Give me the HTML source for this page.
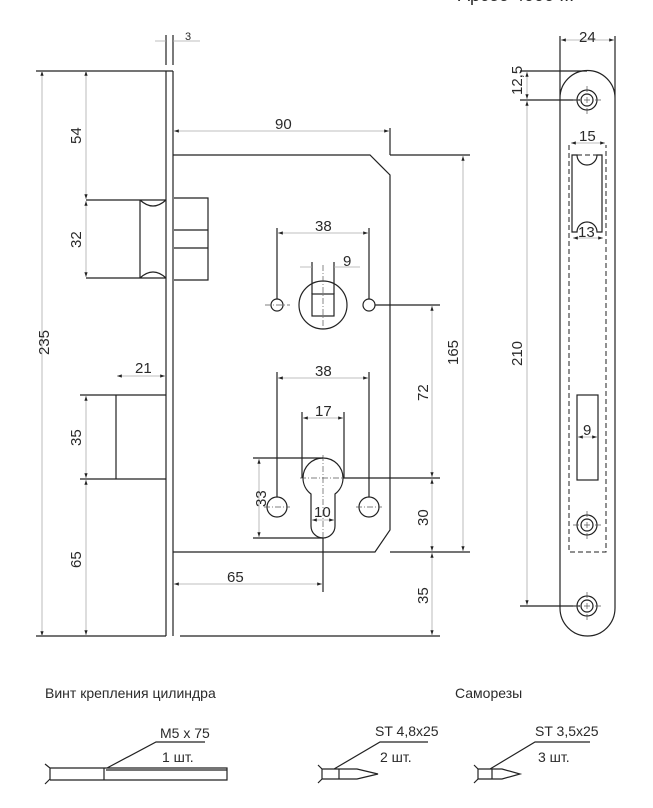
<!DOCTYPE html>
<html><head><meta charset="utf-8"><style>
html,body{margin:0;padding:0;background:#fff}
svg{display:block}
text{font-family:"Liberation Sans",sans-serif;fill:#2a2a2a}
.k{stroke:#222;stroke-width:1.2;fill:none}
.d{stroke:#aaa;stroke-width:0.8;fill:none}
.c{stroke:#555;stroke-width:0.7;fill:none;stroke-dasharray:6 2 1 2}
.ds{stroke:#222;stroke-width:1;fill:none;stroke-dasharray:5 3}
</style></head><body>
<svg width="653" height="808" viewBox="0 0 653 808" xmlns="http://www.w3.org/2000/svg">
<defs>
<marker id="a" viewBox="0 0 6 6" refX="6" refY="3" markerWidth="6" markerHeight="6" orient="auto-start-reverse"><path d="M0,1 L6,3 L0,5z" fill="#222"/></marker>
</defs>
<text x="458" y="1" font-size="18" fill="#444">Арсео 4000 ...</text>

<!-- faceplate -->
<path class="k" d="M166,71 V636 M173,71 V636 M166,71 H173"/>
<!-- body -->
<path class="k" d="M173,155 H370 L390,175 V530 L375,552 H173"/>
<!-- latch -->
<path class="k" d="M86,200 H166 M86,278 H166 M140,200 V278 M140,200 Q153,212 166,200 M140,278 Q153,266 166,278"/>
<path class="k" d="M174,198 H208 V280 H174 M174,230 H208 M174,248 H208"/>
<!-- deadbolt -->
<path class="k" d="M80,395 H166 M80,479 H166 M116,395 V479"/>
<!-- spindle -->
<circle class="k" cx="323" cy="305" r="24"/>
<rect class="k" x="312" y="294" width="22" height="22"/>
<circle class="k" cx="277" cy="305" r="6"/><circle class="k" cx="369" cy="305" r="6"/>
<path class="c" d="M265,305 H290 M323,265 V330"/>
<path class="k" d="M375,305 H440 M277,228 V299 M369,228 V299 M312,262 V294 M334,262 V294"/>
<!-- cylinder -->
<path class="k" d="M303,478 A20,20 0 1 1 343,478 A20,20 0 0 1 335,494 V526 A12,12 0 0 1 311,526 V494 A20,20 0 0 1 303,478 Z"/>
<circle class="k" cx="277" cy="507" r="10"/><circle class="k" cx="369" cy="507" r="10"/>
<path class="c" d="M264,507 H290 M356,507 H382 M300,478 H346 M323,455 V540"/>
<path class="k" d="M343,478 H440 M277,372 V497 M369,372 V497 M302,412 V478 M344,412 V478 M253,458 H323 M253,538 H323 M323,538 V592"/>
<!-- outer lines -->
<path class="k" d="M36,71 H166 M36,636 H166 M180,636 H440 M390,155 V128 M390,155 H470 M390,552 H470"/>
<path class="k" d="M166,35 V65 M173,35 V65"/>
<!-- dims -->
<g class="d" marker-start="url(#a)" marker-end="url(#a)">
<line x1="42" y1="71" x2="42" y2="636"/>
<line x1="86" y1="71" x2="86" y2="199"/>
<line x1="86" y1="201" x2="86" y2="277"/>
<line x1="86" y1="396" x2="86" y2="478"/>
<line x1="86" y1="480" x2="86" y2="635"/>
<line x1="117" y1="376" x2="165" y2="376"/>
<line x1="174" y1="131" x2="389" y2="131"/>
<line x1="278" y1="233" x2="368" y2="233"/>
<line x1="278" y1="378" x2="368" y2="378"/>
<line x1="303" y1="418" x2="343" y2="418"/>
<line x1="259" y1="459" x2="259" y2="537"/>
<line x1="312" y1="520" x2="334" y2="520"/>
<line x1="174" y1="584" x2="322" y2="584"/>
<line x1="463" y1="156" x2="463" y2="551"/>
<line x1="432" y1="306" x2="432" y2="477"/>
<line x1="432" y1="479" x2="432" y2="551"/>
<line x1="432" y1="553" x2="432" y2="635"/>
<line x1="561" y1="40" x2="614" y2="40"/>
<line x1="527" y1="72" x2="527" y2="99"/>
<line x1="527" y1="101" x2="527" y2="605"/>
<line x1="571" y1="143" x2="605" y2="143"/>
<line x1="573" y1="238" x2="603" y2="238"/>
<line x1="578" y1="437" x2="597" y2="437"/>
</g>
<path class="d" d="M155,41 H166 M173,41 H200 M300,267 H312 M334,267 H360"/>
<g font-size="15">
<text x="185" y="40" font-size="11">3</text>
<text x="275" y="129">90</text>
<text x="315" y="231">38</text>
<text x="343" y="266">9</text>
<text x="315" y="376">38</text>
<text x="315" y="416">17</text>
<text x="314" y="517">10</text>
<text x="135" y="373">21</text>
<text x="227" y="582">65</text>
<text x="579" y="42">24</text>
<text x="579" y="141">15</text>
<text x="578" y="237">13</text>
<text x="583" y="435">9</text>
<g transform="translate(49,355) rotate(-90)"><text>235</text></g>
<g transform="translate(81,144) rotate(-90)"><text>54</text></g>
<g transform="translate(81,248) rotate(-90)"><text>32</text></g>
<g transform="translate(81,446) rotate(-90)"><text>35</text></g>
<g transform="translate(81,568) rotate(-90)"><text>65</text></g>
<g transform="translate(266,507) rotate(-90)"><text>33</text></g>
<g transform="translate(458,365) rotate(-90)"><text>165</text></g>
<g transform="translate(428,401) rotate(-90)"><text>72</text></g>
<g transform="translate(428,526) rotate(-90)"><text>30</text></g>
<g transform="translate(428,604) rotate(-90)"><text>35</text></g>
<g transform="translate(522,95) rotate(-90)"><text>12,5</text></g>
<g transform="translate(522,366) rotate(-90)"><text>210</text></g>
</g>
<!-- right strip -->
<path class="k" d="M560,36 V98 A27.5,27.5 0 0 1 615,98 V608 A27.5,28 0 0 1 560,608 V98 M615,36 V98"/>
<path class="k" d="M520,71 H587 M520,100 H580 M520,606 H580"/>
<g class="k"><circle cx="587" cy="100" r="10"/><circle cx="587" cy="100" r="6"/>
<circle cx="587" cy="525" r="10"/><circle cx="587" cy="525" r="6"/>
<circle cx="587" cy="606" r="10"/><circle cx="587" cy="606" r="6"/></g>
<path class="c" d="M573,100 H601 M587,86 V114 M573,525 H601 M587,511 V539 M573,606 H601 M587,592 V620"/>
<path class="k" d="M572,155 V232 H577 A10,10 0 0 1 597,232 H602 V155 H597 A10,10 0 0 1 577,155 Z"/>
<path class="ds" d="M569,145 V552 H606 V145 M577,155 H597"/>
<rect class="k" x="577" y="395" width="21" height="85"/>
<!-- bottom -->
<text x="45" y="698" font-size="14">Винт крепления цилиндра</text>
<text x="455" y="698" font-size="14">Саморезы</text>
<text x="160" y="738" font-size="14">M5 x 75</text>
<text x="162" y="762" font-size="14">1 шт.</text>
<text x="375" y="736" font-size="14">ST 4,8x25</text>
<text x="380" y="762" font-size="14">2 шт.</text>
<text x="535" y="736" font-size="14">ST 3,5x25</text>
<text x="538" y="762" font-size="14">3 шт.</text>
<path class="k" d="M45,764 L50,768 V779 L45,784 M50,768 H227 V780 H50 M104,768 V780 M106,770 H227 M107,768 L156,742 H205"/>
<path class="k" d="M318,765 L322,769 V779 L318,783 M322,769 H357 L378,774 L357,779 H322 M339,769 V779 M334,769 L380,742 H428"/>
<path class="k" d="M474,765 L478,769 V779 L474,783 M478,769 H502 L520,774 L502,779 H478 M492,769 V779 M490,769 L535,742 H590"/>
</svg>
</body></html>
